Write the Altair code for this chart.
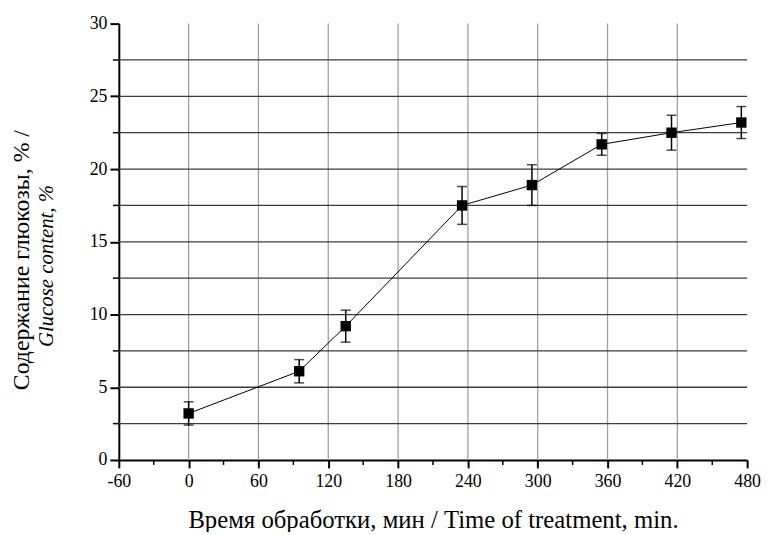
import altair as alt
import pandas as pd

# ---- data ----
time_min = [0, 95, 135, 235, 295, 355, 415, 475]
glucose = [3.2, 6.1, 9.2, 17.5, 18.9, 21.7, 22.5, 23.2]
error = [0.8, 0.8, 1.1, 1.3, 1.4, 0.75, 1.2, 1.1]

x_ticks = [-60, 0, 60, 120, 180, 240, 300, 360, 420, 480]
x_minor = [-30, 30, 90, 150, 210, 270, 330, 390, 450]
y_ticks = [0, 5, 10, 15, 20, 25, 30]
y_minor = [2.5, 7.5, 12.5, 17.5, 22.5, 27.5]
x_grid = [0, 60, 120, 180, 240, 300, 360, 420]
y_grid = [2.5, 5, 7.5, 10, 12.5, 15, 17.5, 20, 22.5, 25, 27.5]

x_title = "Время обработки, мин / Time of treatment, min."
y_title_1 = "Содержание глюкозы, % /"
y_title_2 = "Glucose content, %"

FONT = "Liberation Serif"
W, H = 635, 441

df = pd.DataFrame({
    "t": time_min,
    "g": glucose,
    "lo": [g - e for g, e in zip(glucose, error)],
    "hi": [g + e for g, e in zip(glucose, error)],
})

xs = alt.Scale(domain=[-60, 480], nice=False, zero=False)
ys = alt.Scale(domain=[0, 30], nice=False, zero=False)

x_axis = alt.Axis(values=x_ticks, title=x_title, grid=False,
                  labelExpr="toString(datum.value)", labelFlush=False,
                  labelFont=FONT, labelFontSize=18, labelColor="black",
                  labelPadding=5, tickSize=8, tickWidth=2, tickColor="black",
                  domainColor="black", domainWidth=2,
                  titleFont=FONT, titleFontSize=25, titleFontWeight="normal",
                  titleColor="black", titleBaseline="alphabetic", titleY=68)
y_axis = alt.Axis(values=y_ticks, title=None, grid=False,
                  labelExpr="toString(datum.value)", labelFlush=False,
                  labelFont=FONT, labelFontSize=18, labelColor="black",
                  labelPadding=3, tickSize=9, tickWidth=2, tickColor="black",
                  domainColor="black", domainWidth=2)


def X(field="t"):
    return alt.X(f"{field}:Q", scale=xs, axis=x_axis)


def Y(field="g"):
    return alt.Y(f"{field}:Q", scale=ys, axis=y_axis)


vgrid = alt.Chart(pd.DataFrame({"t": x_grid})).mark_rule(
    color="#a0a0a0", strokeWidth=1.3).encode(x=X())
hgrid = alt.Chart(pd.DataFrame({"g": y_grid})).mark_rule(
    color="#3c3c3c", strokeWidth=1.3).encode(y=Y())
yminor = alt.Chart(pd.DataFrame({"g": y_minor})).mark_rule(
    color="black", strokeWidth=1.5).encode(y=Y(), x=alt.value(-6), x2=alt.value(0))
xminor = alt.Chart(pd.DataFrame({"t": x_minor})).mark_rule(
    color="black", strokeWidth=1.5).encode(x=X(), y=alt.value(H), y2=alt.value(H + 5))

line = alt.Chart(df).mark_line(color="black", strokeWidth=1).encode(x=X(), y=Y())
bars = alt.Chart(df).mark_rule(color="black", strokeWidth=1.5).encode(
    x=X(), y=Y("lo"), y2="hi:Q")
cap_lo = alt.Chart(df).mark_tick(orient="horizontal", color="black", size=10,
                                 thickness=1.5).encode(x=X(), y=Y("lo"))
cap_hi = alt.Chart(df).mark_tick(orient="horizontal", color="black", size=10,
                                 thickness=1.5).encode(x=X(), y=Y("hi"))
pts = alt.Chart(df).mark_point(shape="square", filled=True, color="black",
                               size=110, opacity=1).encode(x=X(), y=Y())

t1 = alt.Chart(pd.DataFrame({"s": [y_title_1]})).mark_text(
    angle=270, font=FONT, fontSize=24, color="black", align="center",
    baseline="middle").encode(x=alt.value(-98), y=alt.value(239), text="s:N")
t2 = alt.Chart(pd.DataFrame({"s": [y_title_2]})).mark_text(
    angle=270, font=FONT, fontSize=21, fontStyle="italic", color="black",
    align="center", baseline="middle").encode(x=alt.value(-73), y=alt.value(245), text="s:N")

chart = alt.layer(vgrid, hgrid, yminor, xminor, line, bars, cap_lo, cap_hi, pts, t1, t2).properties(
    width=W, height=H,
    autosize=alt.AutoSizeParams(type="none"),
    padding={"left": 112, "top": 13, "right": 14, "bottom": 70},
).configure_view(strokeWidth=0)

chart.save("out.html", embed_options={"renderer": "svg", "actions": False})
